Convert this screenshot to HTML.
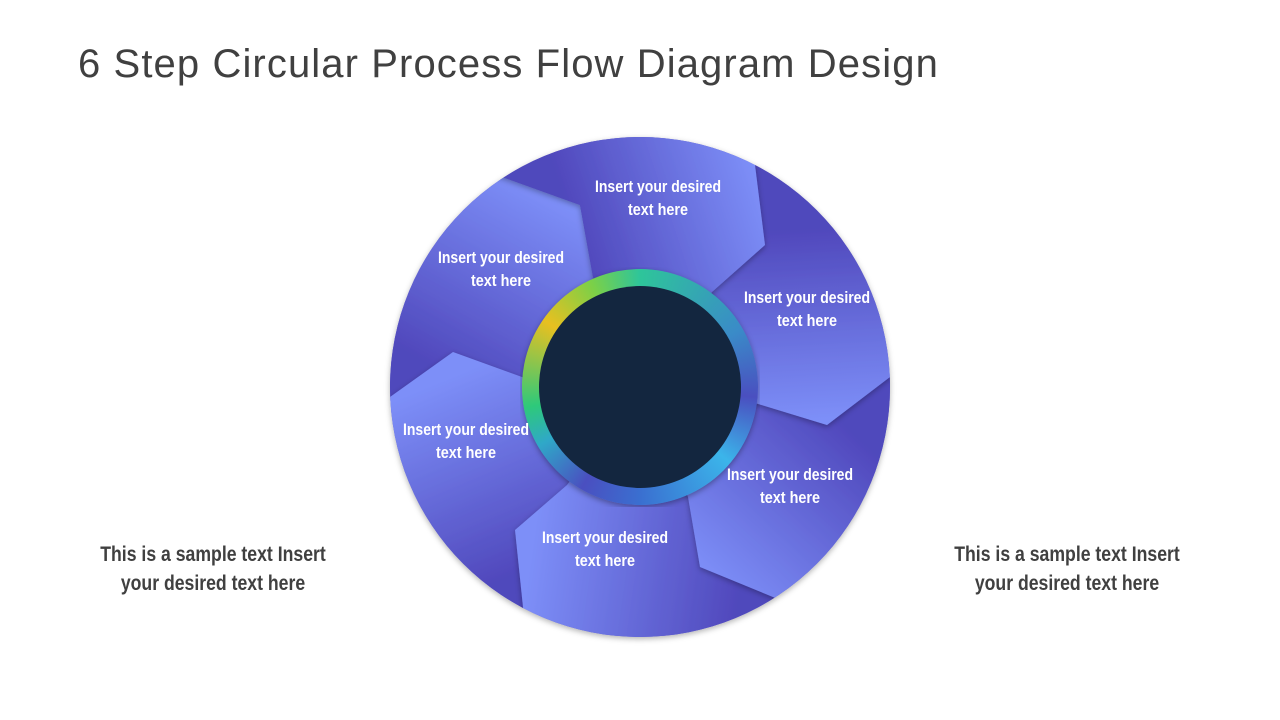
<!DOCTYPE html>
<html><head><meta charset="utf-8"><style>
html,body{margin:0;width:1280px;height:720px;overflow:hidden}
body{background:#fff;position:relative;font-family:"Liberation Sans",sans-serif}
.t{position:absolute;left:78px;top:42px;font-size:40px;color:#404040;letter-spacing:1.1px;white-space:nowrap}
.s{position:absolute;font-weight:bold;font-size:21px;color:#404040;text-align:center;line-height:29px;width:300px;transform:scaleX(0.84);white-space:nowrap}
svg{position:absolute;left:0;top:0}
.w{font-weight:bold;font-size:17px;fill:#fff;text-anchor:middle}
</style></head><body>
<div class="t">6 Step Circular Process Flow Diagram Design</div>
<div class="s" style="left:63px;top:540px">This is a sample text Insert<br>your desired text here</div>
<div class="s" style="left:917px;top:540px">This is a sample text Insert<br>your desired text here</div>
<svg width="1280" height="720">
<defs>
<clipPath id="c"><circle cx="640" cy="387" r="250"/></clipPath>
<filter id="sh" x="-20%" y="-20%" width="140%" height="140%"><feDropShadow dx="0" dy="2" stdDeviation="3" flood-color="#000" flood-opacity="0.3"/></filter>
<linearGradient id="g1" gradientUnits="userSpaceOnUse" x1="585" y1="260" x2="765" y2="200"><stop offset="0" stop-color="#5048bc"/><stop offset="1" stop-color="#7d8ff8"/></linearGradient>
<linearGradient id="g2" gradientUnits="userSpaceOnUse" x1="790" y1="230" x2="800" y2="420"><stop offset="0" stop-color="#5048bc"/><stop offset="1" stop-color="#7d8ff8"/></linearGradient>
<linearGradient id="g3" gradientUnits="userSpaceOnUse" x1="850" y1="430" x2="710" y2="580"><stop offset="0" stop-color="#5048bc"/><stop offset="1" stop-color="#7d8ff8"/></linearGradient>
<linearGradient id="g4" gradientUnits="userSpaceOnUse" x1="740" y1="590" x2="530" y2="560"><stop offset="0" stop-color="#5048bc"/><stop offset="1" stop-color="#7d8ff8"/></linearGradient>
<linearGradient id="g5" gradientUnits="userSpaceOnUse" x1="500" y1="580" x2="420" y2="390"><stop offset="0" stop-color="#5048bc"/><stop offset="1" stop-color="#7d8ff8"/></linearGradient>
<linearGradient id="g6" gradientUnits="userSpaceOnUse" x1="440" y1="370" x2="540" y2="190"><stop offset="0" stop-color="#5048bc"/><stop offset="1" stop-color="#7d8ff8"/></linearGradient>
</defs>
<circle cx="640" cy="387" r="250" fill="#5a58c8" filter="url(#sh)"/>
<g clip-path="url(#c)">
<polygon fill="url(#g6)" filter="url(#sh)" points="640,387 522,377 453,352 390,397 327,442 240,387 300,150 430,151 505,178 580,205 593,277"/>
<polygon fill="url(#g5)" filter="url(#sh)" points="640,387 567,485 515,530 523,607 531,684 300,650 240,387 327,442 390,397 453,352 522,377"/>
<polygon fill="url(#g4)" filter="url(#sh)" points="640,387 688,497 700,567 773,597 846,627 760,780 531,684 523,607 515,530 567,485"/>
<polygon fill="url(#g3)" filter="url(#sh)" points="640,387 755,403 827,425 890,377 953,329 1040,500 846,627 773,597 700,567 688,497"/>
<polygon fill="url(#g2)" filter="url(#sh)" points="640,387 712,292 765,245 755,165 745,85 960,160 953,329 890,377 827,425 755,403"/>
<polygon fill="url(#g1)" filter="url(#sh)" points="640,387 593,277 580,205 505,178 430,151 580,40 745,85 755,165 765,245 712,292"/>
</g>
<foreignObject x="520" y="267" width="240" height="240"><div xmlns="http://www.w3.org/1999/xhtml" style="width:236px;height:236px;margin:2px;border-radius:50%;background:conic-gradient(from 0deg,#2ec59a 0deg,#3a8bc8 60deg,#4a4fc0 95deg,#3bb5ea 130deg,#3a6fd0 180deg,#4a4fc0 210deg,#2fa8c8 240deg,#2ec97a 260deg,#e8c020 305deg,#7bd048 335deg,#2ec59a 360deg);box-shadow:0 2px 6px rgba(0,0,0,.35)"></div></foreignObject>
<circle cx="640" cy="387" r="101" fill="#13263f"/>
<g class="w">
<text x="658" y="192" textLength="126" lengthAdjust="spacingAndGlyphs">Insert your desired</text><text x="658" y="215" textLength="60" lengthAdjust="spacingAndGlyphs">text here</text>
<text x="501" y="263" textLength="126" lengthAdjust="spacingAndGlyphs">Insert your desired</text><text x="501" y="286" textLength="60" lengthAdjust="spacingAndGlyphs">text here</text>
<text x="807" y="303" textLength="126" lengthAdjust="spacingAndGlyphs">Insert your desired</text><text x="807" y="326" textLength="60" lengthAdjust="spacingAndGlyphs">text here</text>
<text x="466" y="435" textLength="126" lengthAdjust="spacingAndGlyphs">Insert your desired</text><text x="466" y="458" textLength="60" lengthAdjust="spacingAndGlyphs">text here</text>
<text x="790" y="480" textLength="126" lengthAdjust="spacingAndGlyphs">Insert your desired</text><text x="790" y="503" textLength="60" lengthAdjust="spacingAndGlyphs">text here</text>
<text x="605" y="543" textLength="126" lengthAdjust="spacingAndGlyphs">Insert your desired</text><text x="605" y="566" textLength="60" lengthAdjust="spacingAndGlyphs">text here</text>
</g>
</svg>
</body></html>
